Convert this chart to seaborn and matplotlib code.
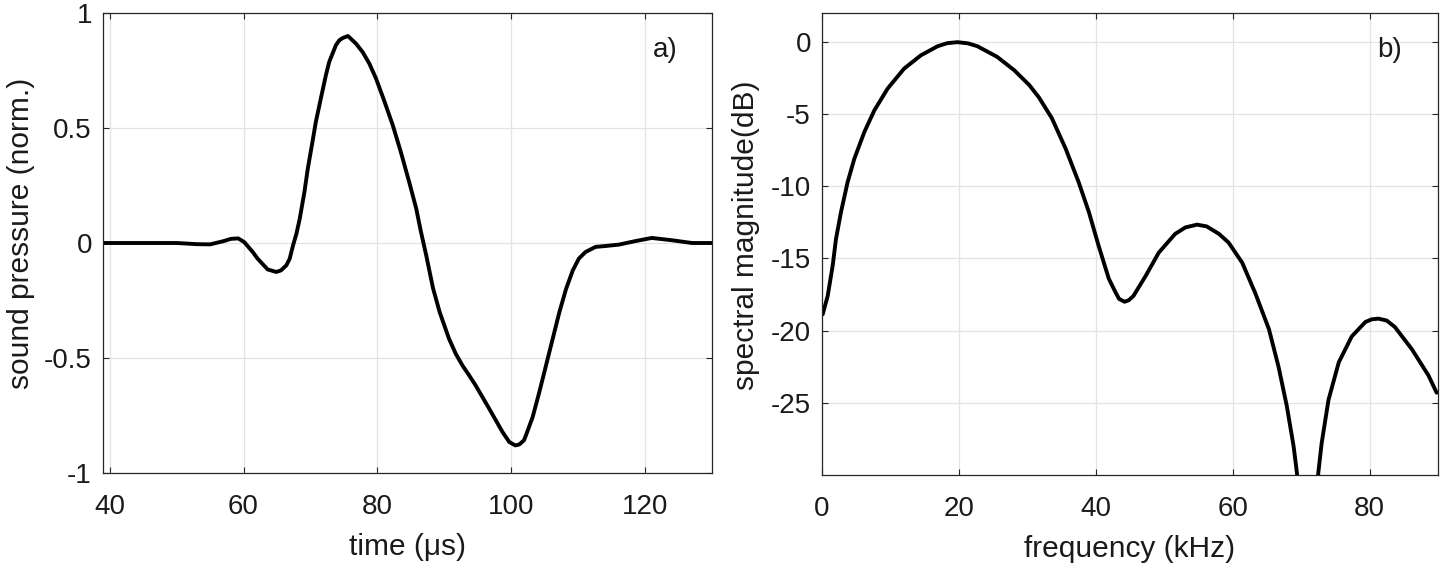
import numpy as np
import pandas as pd
import seaborn as sns
import matplotlib
matplotlib.use("Agg")
import matplotlib.pyplot as plt

# ---------------- data ----------------
time_us = [39, 45, 50, 53, 55, 57, 58.1, 59.2, 60.1, 61.4, 62.1, 63.6, 64.9,
           65.6, 66.4, 66.9, 67.4, 67.9, 68.4, 69.1, 69.6, 70.3, 70.8, 71.6,
           72.3, 72.8, 73.8, 74.3, 74.8, 75.6, 76.8, 77.8, 78.8, 79.8, 81.0,
           82.3, 83.5, 84.8, 85.8, 86.5, 87.3, 88.3, 89.3, 90.7, 91.7, 92.7,
           93.7, 94.7, 95.7, 96.7, 97.7, 98.7, 99.7, 100.6, 101.2, 101.9,
           102.2, 103.2, 104.2, 105.2, 106.2, 107.2, 108.2, 109.2, 110.1,
           111.1, 112.6, 114.1, 116.1, 118.5, 121, 124, 127, 130]
pressure = [0.0, 0.0, 0.0, -0.005, -0.006, 0.008, 0.018, 0.02, 0.004, -0.04,
            -0.068, -0.115, -0.126, -0.119, -0.097, -0.068, -0.01, 0.04,
            0.106, 0.222, 0.323, 0.44, 0.526, 0.635, 0.729, 0.787, 0.86,
            0.881, 0.891, 0.90, 0.867, 0.83, 0.78, 0.715, 0.62, 0.512, 0.396,
            0.26, 0.15, 0.05, -0.054, -0.195, -0.30, -0.416, -0.481, -0.532,
            -0.575, -0.62, -0.67, -0.72, -0.771, -0.822, -0.865, -0.88,
            -0.876, -0.858, -0.836, -0.757, -0.648, -0.532, -0.416, -0.30,
            -0.199, -0.119, -0.068, -0.039, -0.017, -0.013, -0.007, 0.008,
            0.022, 0.012, 0.0, 0.0]

freq_khz = [0.1, 0.83, 1.56, 2.04, 2.77, 3.74, 4.72, 6.18, 7.64, 9.58, 12.0,
            14.45, 16.9, 18.3, 19.8, 21.3, 22.7, 25.6, 28.1, 30.3, 31.7, 33.6,
            35.6, 37.5, 39.0, 40.4, 41.9, 42.9, 43.4, 44.2, 44.8, 45.5, 47.3,
            49.2, 51.6, 53.1, 54.8, 56.2, 58.0, 59.4, 61.4, 63.3, 65.3, 66.7,
            67.9, 68.9, 69.4, 71.0, 72.5, 73.0, 74.0, 75.5, 77.4, 79.4, 80.3,
            81.3, 82.5, 83.7, 86.2, 88.6, 89.8]
magnitude_db = [-18.87, -17.6, -15.5, -13.66, -11.8, -9.72, -8.1, -6.25,
                -4.75, -3.24, -1.85, -0.93, -0.3, -0.09, -0.02, -0.1, -0.3,
                -1.04, -1.97, -3.0, -3.85, -5.3, -7.4, -9.72, -11.8, -14.1,
                -16.4, -17.36, -17.8, -18.0, -17.9, -17.6, -16.2, -14.6, -13.3,
                -12.85, -12.66, -12.78, -13.3, -13.9, -15.3, -17.4, -19.9,
                -22.5, -25.2, -28.0, -29.9, -45.0, -29.9, -27.8, -24.8, -22.2,
                -20.4, -19.4, -19.22, -19.17, -19.3, -19.75, -21.3, -23.1,
                -24.3]

left_xticks = [40, 60, 80, 100, 120]
left_yticks = [-1, -0.5, 0, 0.5, 1]
left_yticklabels = ["-1", "-0.5", "0", "0.5", "1"]
right_xticks = [0, 20, 40, 60, 80]
right_yticks = [-25, -20, -15, -10, -5, 0]
right_yticklabels = ["-25", "-20", "-15", "-10", "-5", "0"]

df_time = pd.DataFrame({"t": time_us, "p": pressure})
df_freq = pd.DataFrame({"f": freq_khz, "m": magnitude_db})

# ---------------- style ----------------
sns.set_theme(style="whitegrid")
plt.rcParams["font.family"] = ["Liberation Sans", "DejaVu Sans"]
plt.rcParams["axes.unicode_minus"] = False

fig = plt.figure(figsize=(14.5, 5.71), dpi=100)
ax1 = fig.add_axes([103 / 1450, 1 - 473 / 571, 609 / 1450, 460 / 571])
ax2 = fig.add_axes([822 / 1450, 1 - 475 / 571, 616 / 1450, 462 / 571])

FS = 20
LFS = 21.5
SPINE = "#262626"
TXT = "#1a1a1a"

sns.lineplot(data=df_time, x="t", y="p", ax=ax1, color="black",
             linewidth=2.8, estimator=None, sort=False)
sns.lineplot(data=df_freq, x="f", y="m", ax=ax2, color="black",
             linewidth=2.8, estimator=None, sort=False)

ax1.set_xlim(39, 130)
ax1.set_ylim(-1, 1)
ax1.set_xticks(left_xticks)
ax1.set_xticklabels([str(v) for v in left_xticks])
ax1.set_yticks(left_yticks)
ax1.set_yticklabels(left_yticklabels)

ax2.set_xlim(0, 90)
ax2.set_ylim(-30, 2)
ax2.set_xticks(right_xticks)
ax2.set_xticklabels([str(v) for v in right_xticks])
ax2.set_yticks(right_yticks)
ax2.set_yticklabels(right_yticklabels)

for ax in (ax1, ax2):
    ax.set_facecolor("white")
    ax.grid(True, color="#e3e3e3", linewidth=0.9)
    for s in ax.spines.values():
        s.set_visible(True)
        s.set_color(SPINE)
        s.set_linewidth(0.9)
    ax.tick_params(axis="both", which="major", direction="in", length=4,
                   width=0.8, color=SPINE, labelsize=FS, labelcolor=TXT,
                   top=True, right=True, bottom=True, left=True)
    ax.tick_params(axis="x", pad=15)
    ax.tick_params(axis="y", pad=8)

ax1.set_xlabel("time (μs)", fontsize=LFS, color=TXT)
ax1.set_ylabel("sound pressure (norm.)", fontsize=LFS, color=TXT)
ax2.set_xlabel("frequency (kHz)", fontsize=LFS, color=TXT)
ax2.set_ylabel("spectral magnitude(dB)", fontsize=LFS, color=TXT)

ax1.xaxis.set_label_coords(0.5, -0.13)
ax2.xaxis.set_label_coords(0.5, -0.13)
ax1.yaxis.set_label_coords(-0.112, 0.52)
ax2.yaxis.set_label_coords(-0.10, 0.52)

ax1.text(0.923, 0.92, "a)", transform=ax1.transAxes, fontsize=FS,
         ha="center", va="center", color=TXT)
ax2.text(0.922, 0.92, "b)", transform=ax2.transAxes, fontsize=FS,
         ha="center", va="center", color=TXT)

fig.savefig("out.png", dpi=100, facecolor="white")
